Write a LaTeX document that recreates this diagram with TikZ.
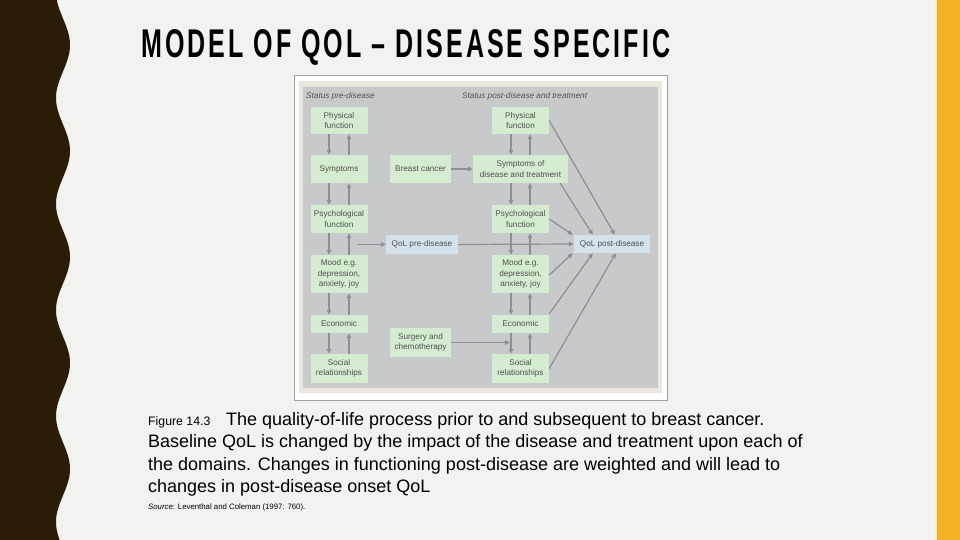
\documentclass[tikz,border=0pt]{standalone}
\usepackage{fontspec}
\setmainfont{Liberation Sans}
\newfontfamily\titlefont[LetterSpace=12]{Liberation Sans}
\usetikzlibrary{arrows.meta}
\definecolor{slidebg}{RGB}{242,242,240}
\definecolor{bandbrown}{RGB}{43,29,5}
\definecolor{bandyellow}{RGB}{247,177,37}
\definecolor{bandlight}{RGB}{251,238,200}
\definecolor{framegray}{RGB}{160,160,160}
\definecolor{creambg}{RGB}{236,231,222}
\definecolor{panelgray}{RGB}{200,201,203}
\definecolor{boxgreen}{RGB}{214,236,210}
\definecolor{boxblue}{RGB}{212,226,236}
\definecolor{arrowgray}{RGB}{140,143,148}
\definecolor{boxtext}{RGB}{80,80,80}
\tikzset{
  fbox/.style={fill=boxgreen, inner sep=0pt, align=center, text=boxtext,
    font=\fontsize{8.2}{10.5}\selectfont, minimum width=57pt},
  bbox/.style={fbox, fill=boxblue},
  conn/.style={draw=arrowgray, line width=1.2pt, -{Triangle[width=4.5pt,length=5pt]}},
  statuslbl/.style={anchor=base west, inner sep=0pt, text=boxtext, font=\fontsize{8.2}{9}\selectfont\itshape},
  capline/.style={anchor=base west, inner sep=0pt, font=\fontsize{18}{20}\selectfont},
}
\begin{document}
\begin{tikzpicture}[x=1pt,y=-1pt]
\useasboundingbox (0,0) rectangle (960,540);
\fill[slidebg] (0,0) rectangle (960,540);
% left wavy band
\fill[bandbrown] (0,-2) -- plot[domain=-2:542, samples=240, variable=\t] ({63+7*cos(3.39623*(\t-45))}, \t) -- (0,542) -- cycle;
% right band
\fill[bandlight] (934.5,0) rectangle (937,540);
\fill[bandyellow] (937,0) rectangle (960,540);
% title
\node[anchor=base west, inner sep=0pt] (title) at (141,58)
  {\resizebox{529pt}{28pt}{\titlefont\bfseries MODEL OF QOL – DISEASE SPECIFIC}};
% figure frame
\draw[framegray, fill=white, line width=0.8pt] (294,75) rectangle (667,400);
\fill[creambg] (299,81) rectangle (662,393);
\fill[panelgray] (303,87) rectangle (658,388);
\node[statuslbl] (st1) at (306,98.5) {Status pre-disease};
\node[statuslbl] (st2) at (462,98.5) {Status post-disease and treatment};
% left column
\node[fbox, minimum height=27pt] (lphys) at (339,120.5) {Physical\\function};
\node[fbox, minimum height=28pt] (lsym) at (339,169) {Symptoms};
\node[fbox, minimum height=28pt] (lpsy) at (339,219) {Psychological\\function};
\node[fbox, minimum height=38pt] (lmood) at (339,274) {Mood e.g.\\depression,\\anxiety, joy};
\node[fbox, minimum height=18pt] (leco) at (339,324) {Economic};
\node[fbox, minimum height=29pt] (lsoc) at (339,368.5) {Social\\relationships};
% middle column
\node[fbox, minimum width=61pt, minimum height=28pt] (bc) at (420.5,169) {Breast cancer};
\node[bbox, minimum width=72pt, minimum height=19pt] (qpre) at (422,244.5) {QoL pre-disease};
\node[fbox, minimum width=61pt, minimum height=29pt] (surg) at (420.5,342.5) {Surgery and\\chemotherapy};
% right column
\node[fbox, minimum height=27pt] (rphys) at (520.5,120.5) {Physical\\function};
\node[fbox, minimum width=95pt, minimum height=28pt] (rsym) at (520.5,169) {Symptoms of\\disease and treatment};
\node[fbox, minimum height=28pt] (rpsy) at (520.5,219) {Psychological\\function};
\node[fbox, minimum height=38pt] (rmood) at (520.5,274) {Mood e.g.\\depression,\\anxiety, joy};
\node[fbox, minimum height=18pt] (reco) at (520.5,324) {Economic};
\node[fbox, minimum height=29pt] (rsoc) at (520.5,368.5) {Social\\relationships};
\node[bbox, minimum width=76pt, minimum height=18pt] (qpost) at (612,244) {QoL post-disease};
% vertical arrows
\foreach \a/\b in {phys/sym, sym/psy, psy/mood, mood/eco, eco/soc}{
  \draw[conn] ([xshift=-10pt]l\a.south) -- ([xshift=-10pt]l\b.north);
  \draw[conn] ([xshift=10pt]l\b.north) -- ([xshift=10pt]l\a.south);
  \draw[conn] ([xshift=-9.5pt]r\a.south) -- ([xshift=-9.5pt]r\b.north);
  \draw[conn] ([xshift=9.5pt]r\b.north) -- ([xshift=9.5pt]r\a.south);
}
% horizontal arrows
\draw[conn] (bc.east) -- (rsym.west);
\coordinate (pstart) at (357,244.5);
\draw[conn] (pstart) -- (qpre.west);
\draw[conn] (qpre.east) -- (qpost.west);
\coordinate (surgend) at (510,342.5);
\draw[conn] (surg.east) -- (surgend);
% diagonals to QoL post-disease
\draw[conn] (rphys.east) -- ([xshift=41pt]qpost.north west);
\draw[conn] ([xshift=-8pt]rsym.south east) -- ([xshift=19pt]qpost.north west);
\draw[conn] (rpsy.east) -- ([xshift=-1pt]qpost.north west);
\draw[conn] ([yshift=-1pt]rmood.east) -- ([xshift=-1pt]qpost.south west);
\draw[conn] ([yshift=1pt]reco.north east) -- ([xshift=19pt]qpost.south west);
\draw[conn] (rsoc.east) -- ([xshift=42pt]qpost.south west);
% caption
\node[anchor=base west, inner sep=0pt, font=\fontsize{12.3}{14}\selectfont] (figno) at (148,425) {Figure 14.3};
\node[capline] (cap1) at (226,425) {The quality-of-life process prior to and subsequent to breast cancer.};
\node[capline] (cap2) at (148,447.5) {Baseline QoL is changed by the impact of the disease and treatment upon each of};
\node[capline] (cap3) at (148,470) {the domains. Changes in functioning post-disease are weighted and will lead to};
\node[capline] (cap4) at (148,492) {changes in post-disease onset QoL};
\node[anchor=base west, inner sep=0pt, font=\fontsize{7.8}{9}\selectfont] (src) at (148,509.5) {\textit{Source}: Leventhal and Coleman (1997: 760).};
\end{tikzpicture}
\end{document}
